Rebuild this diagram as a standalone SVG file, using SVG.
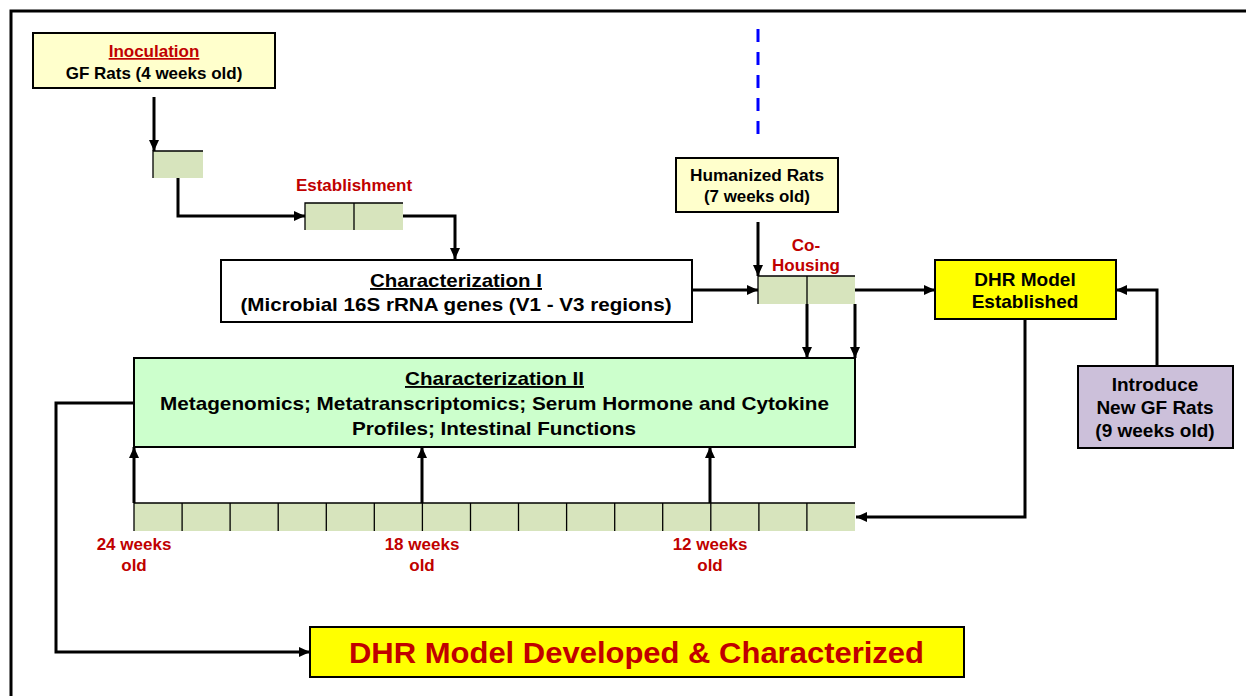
<svg xmlns="http://www.w3.org/2000/svg" width="1246" height="696" viewBox="0 0 1246 696">
<style>
.box{stroke:#000;stroke-width:2}
.cell{fill:#D7E4BD;stroke:none}
.cl{stroke:#000;stroke-width:1.3;fill:none}
.con{stroke:#000;stroke-width:3;fill:none}
.t{font-family:"Liberation Sans",Arial,sans-serif;font-weight:bold;text-anchor:middle;fill:#000}
.r{fill:#C00000}
</style>
<defs>
<marker id="ah" markerUnits="userSpaceOnUse" markerWidth="12" markerHeight="10" refX="11" refY="5" orient="auto">
<path d="M0,0 L11,5 L0,10 Z" fill="#000"/>
</marker>
</defs>
<rect width="1246" height="696" fill="#fff"/>
<path d="M1250,11 H11 V700" fill="none" stroke="#000" stroke-width="3"/>

<g id="inoculation">
<rect class="box" x="33" y="33" width="242" height="55" fill="#FFFFCC"/>
<text class="t r" x="154" y="57" font-size="17" text-decoration="underline">Inoculation</text>
<text class="t" x="154" y="79" font-size="17">GF Rats (4 weeks old)</text>
</g>

<g id="cell-inoc">
<rect class="cell" x="153" y="151" width="50" height="27"/>
<path class="cl" d="M153,178 V151 H203"/>
</g>

<g id="establishment">
<text class="t r" x="354" y="191" font-size="17">Establishment</text>
<rect class="cell" x="305" y="203" width="98" height="27"/>
<path class="cl" d="M305,230 V203 H403 M354,203 V230"/>
</g>

<g id="char1">
<rect class="box" x="221" y="260" width="471" height="62" fill="#fff"/>
<text class="t" x="456" y="287" font-size="19" text-decoration="underline" textLength="172" lengthAdjust="spacingAndGlyphs">Characterization I</text>
<text class="t" x="456" y="311" font-size="19" textLength="431" lengthAdjust="spacingAndGlyphs">(Microbial 16S rRNA genes (V1 - V3 regions)</text>
</g>

<g id="humanized">
<rect class="box" x="676" y="158" width="162" height="54" fill="#FFFFCC"/>
<text class="t" x="757" y="181" font-size="16" textLength="134" lengthAdjust="spacingAndGlyphs">Humanized Rats</text>
<text class="t" x="757" y="202" font-size="16" textLength="106" lengthAdjust="spacingAndGlyphs">(7 weeks old)</text>
</g>

<g id="cohousing">
<text class="t r" x="806" y="251" font-size="17">Co-</text>
<text class="t r" x="806" y="271" font-size="17">Housing</text>
<rect class="cell" x="758" y="276" width="97" height="28"/>
<path class="cl" d="M758,304 V276 H855 M807,276 V304"/>
</g>

<g id="dhr-established">
<rect class="box" x="935" y="260" width="181" height="59" fill="#FFFF00"/>
<text class="t" x="1025" y="286" font-size="19">DHR Model</text>
<text class="t" x="1025" y="308" font-size="19">Established</text>
</g>

<g id="introduce">
<rect class="box" x="1078" y="366" width="155" height="82" fill="#CCC0DA"/>
<text class="t" x="1155" y="391" font-size="19">Introduce</text>
<text class="t" x="1155" y="414" font-size="19">New GF Rats</text>
<text class="t" x="1155" y="437" font-size="19">(9 weeks old)</text>
</g>

<g id="char2">
<rect class="box" x="134" y="358" width="721" height="89" fill="#CCFFCC"/>
<text class="t" x="494.5" y="385" font-size="19" text-decoration="underline" textLength="179" lengthAdjust="spacingAndGlyphs">Characterization II</text>
<text class="t" x="494.5" y="410" font-size="19" textLength="669" lengthAdjust="spacingAndGlyphs">Metagenomics; Metatranscriptomics; Serum Hormone and Cytokine</text>
<text class="t" x="494" y="435" font-size="19" textLength="284" lengthAdjust="spacingAndGlyphs">Profiles; Intestinal Functions</text>
</g>

<g id="timeline">
<rect class="cell" x="134" y="503" width="721" height="28"/>
<path class="cl" d="M134,531 V503 H855 M182.1,503 V531 M230.1,503 V531 M278.2,503 V531 M326.3,503 V531 M374.3,503 V531 M422.4,503 V531 M470.5,503 V531 M518.5,503 V531 M566.6,503 V531 M614.7,503 V531 M662.7,503 V531 M710.8,503 V531 M758.9,503 V531 M806.9,503 V531"/>
<text class="t r" x="134" y="550" font-size="17">24 weeks</text>
<text class="t r" x="134" y="571" font-size="17">old</text>
<text class="t r" x="422" y="550" font-size="17">18 weeks</text>
<text class="t r" x="422" y="571" font-size="17">old</text>
<text class="t r" x="710" y="550" font-size="17">12 weeks</text>
<text class="t r" x="710" y="571" font-size="17">old</text>
</g>

<g id="final">
<rect class="box" x="310" y="627" width="654" height="50" fill="#FFFF00"/>
<text class="t r" x="636.5" y="663" font-size="29" textLength="575" lengthAdjust="spacingAndGlyphs">DHR Model Developed &amp; Characterized</text>
</g>

<g id="connectors">
<line x1="758" y1="29" x2="758" y2="136" stroke="#0000FF" stroke-width="3" stroke-dasharray="13,10"/>
<path class="con" d="M154,97 V151" marker-end="url(#ah)"/>
<path class="con" d="M178,178 V216 H305" marker-end="url(#ah)"/>
<path class="con" d="M403,216 H455 V259" marker-end="url(#ah)"/>
<path class="con" d="M692,290 H758" marker-end="url(#ah)"/>
<path class="con" d="M758,222 V276" marker-end="url(#ah)"/>
<path class="con" d="M855,290 H935" marker-end="url(#ah)"/>
<path class="con" d="M807,304 V358" marker-end="url(#ah)"/>
<path class="con" d="M855,304 V358" marker-end="url(#ah)"/>
<path class="con" d="M1157,366 V290 H1116" marker-end="url(#ah)"/>
<path class="con" d="M1025,319 V517 H856" marker-end="url(#ah)"/>
<path class="con" d="M134,503 V447" marker-end="url(#ah)"/>
<path class="con" d="M422,503 V447" marker-end="url(#ah)"/>
<path class="con" d="M710,503 V447" marker-end="url(#ah)"/>
<path class="con" d="M134,403 H56 V652 H310" marker-end="url(#ah)"/>
</g>
</svg>
